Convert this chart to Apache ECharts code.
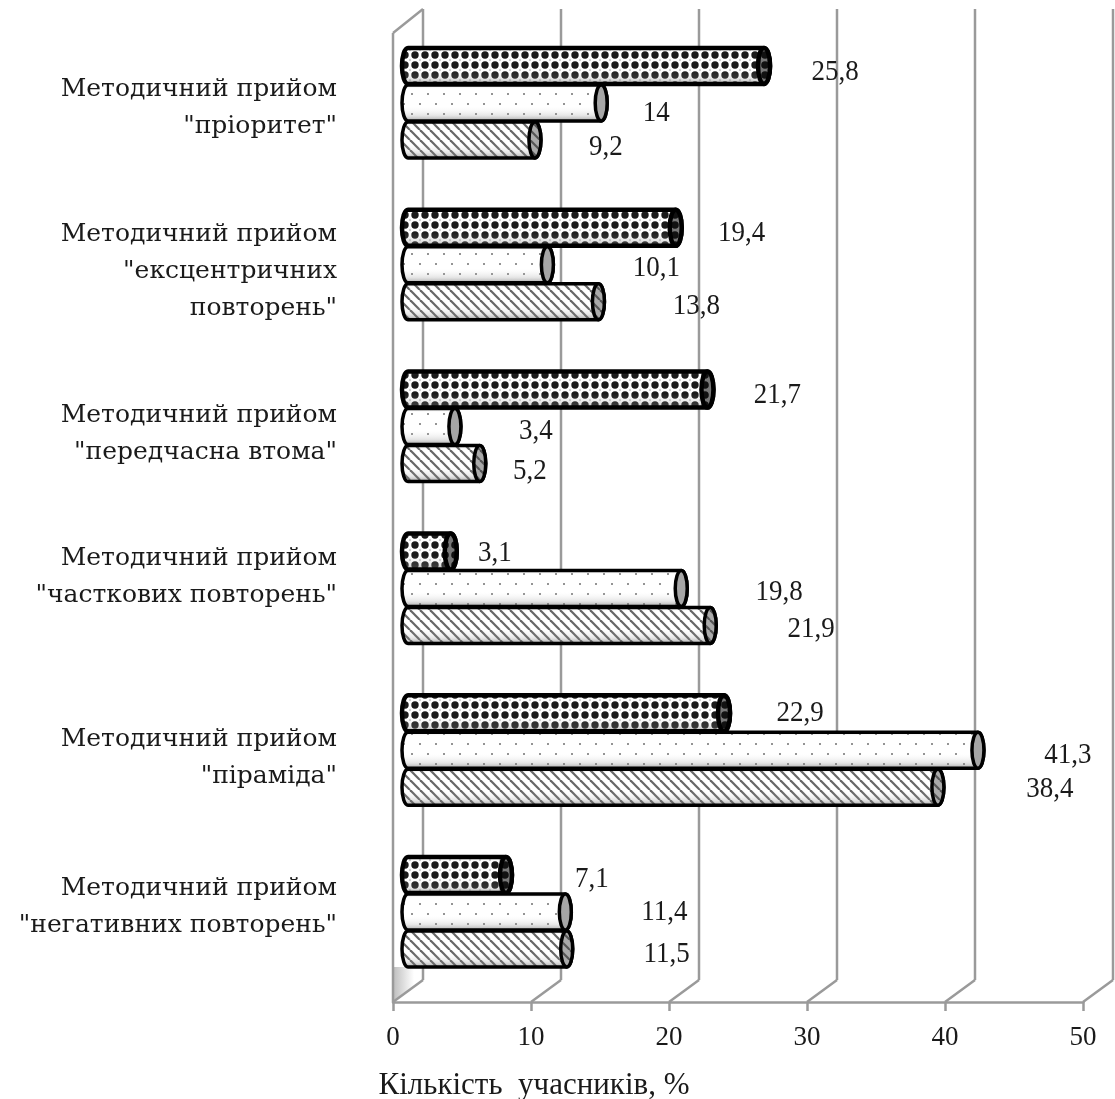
<!DOCTYPE html>
<html><head><meta charset="utf-8">
<style>html,body{margin:0;padding:0;background:#fff}#c{width:1115px;height:1099px}</style>
<script src="https://cdn.jsdelivr.net/npm/echarts@6/dist/echarts.min.js"></script>
</head><body><div id="c"></div>
<script>
const categories = [
  'Методичний прийом\n"пріоритет"',
  'Методичний прийом\n"ексцентричних\nповторень"',
  'Методичний прийом\n"передчасна втома"',
  'Методичний прийом\n"часткових повторень"',
  'Методичний прийом\n"піраміда"',
  'Методичний прийом\n"негативних повторень"'
];
const checkerValues = [25.8, 19.4, 21.7, 3.1, 22.9, 7.1];
const dottedValues  = [14, 10.1, 3.4, 19.8, 41.3, 11.4];
const hatchedValues = [9.2, 13.8, 5.2, 21.9, 38.4, 11.5];
const tickValues = [0, 10, 20, 30, 40, 50];

// layout constants (not data)
const checkerNudge = [[71,6],[66,6],[70,6],[44,2],[76,0],[86,4]];
const dottedNudge  = [[55,10],[109,4],[81,5],[98,4],[90,5],[99,0]];
const hatchedNudge = [[71,7],[98,5],[50,8],[101,4],[112,2],[100,5]];
const catLift = [3.5, 2.5, 2, 20, 1, 14.5];
const SERIF = '"Liberation Serif", serif';
const CATFONT = '"DejaVu Serif", serif';
const LINE = '#9a9a9a';

function mkPattern(w, h, bg, draw) {
  const c = document.createElement('canvas'); c.width = w; c.height = h;
  const g = c.getContext('2d'); g.fillStyle = bg; g.fillRect(0,0,w,h); draw(g);
  return {image: c, repeat: 'repeat'};
}
const drawChecker = g => {
  g.fillStyle = '#000'; g.beginPath(); g.arc(5,5,3.7,0,7); g.fill();
  g.fillStyle = '#ccc'; [[0,0],[10,0],[0,10],[10,10]].forEach(p=>{ g.beginPath(); g.arc(p[0],p[1],1.2,0,7); g.fill(); });
};
const patChecker = mkPattern(10, 10, '#fff', drawChecker);
const capChecker = mkPattern(10, 10, '#777', g => { g.fillStyle = '#111'; g.beginPath(); g.arc(5,5,3.8,0,7); g.fill(); });
const patDots = mkPattern(16, 20, '#fff', g => {
  g.fillStyle = '#888';
  g.fillRect(3,3,2,2); g.fillRect(11,13,2,2);
});
const drawHatch = g => {
  g.strokeStyle = '#555'; g.lineWidth = 2.2;
  [-10,0,10].forEach(o => { g.beginPath(); g.moveTo(o,0); g.lineTo(o+10,10); g.stroke(); });
};
const patHatch = mkPattern(10, 10, '#fff', drawHatch);
const capHatch = mkPattern(10, 10, '#aaa', drawHatch);
const shade = {type:'linear',x:0,y:0,x2:0,y2:1,colorStops:[
  {offset:0,color:'rgba(70,70,70,0.4)'},{offset:0.14,color:'rgba(255,255,255,0.1)'},
  {offset:0.6,color:'rgba(255,255,255,0.1)'},{offset:0.82,color:'rgba(170,170,170,0.3)'},
  {offset:1,color:'rgba(70,70,70,0.65)'}]};

function cylinderSeries(name, values, nudges, slot, pattern, capFill, lw) {
  return {
    type:'custom', name, coordinateSystem:'cartesian2d', z:5, clip:false,
    data: values.map((v,i)=>[v,i]),
    encode:{x:0,y:1},
    renderItem(params, api) {
      const v = api.value(0), idx = api.value(1);
      const start = api.coord([0, idx]), end = api.coord([v, idx]);
      const cy = start[1] - 9 + slot*37;
      const x0 = start[0] + 15, x1 = end[0] + 15;
      const r = 18, rx = 6;
      const d = `M${x0} ${cy-r} L${x1} ${cy-r} A${rx} ${r} 0 0 1 ${x1} ${cy+r} L${x0} ${cy+r} A${rx} ${r} 0 0 1 ${x0} ${cy-r} Z`;
      const n = nudges[idx];
      return {type:'group', children:[
        {type:'path', shape:{pathData:d}, style:{fill:pattern, stroke:'none'}},
        {type:'path', shape:{pathData:d}, style:{fill:shade, stroke:'#000', lineWidth:lw}},
        {type:'ellipse', shape:{cx:x1, cy, rx, ry:r}, style:{fill:capFill, stroke:'#000', lineWidth:lw}},
        {type:'text', x:x1+n[0], y:cy+n[1], scaleY:1.08, style:{text:String(v).replace('.',','), x:0, y:0, align:'center', verticalAlign:'middle',
          font:'27px '+SERIF, fill:'#1a1a1a'}}
      ]};
    }
  };
}
const wallSeries = {
  type:'custom', name:'wall', coordinateSystem:'cartesian2d', z:1, clip:false, silent:true,
  data: tickValues.map(t=>[t, 0]),
  encode:{x:0},
  renderItem(params, api) {
    const t = api.value(0);
    const base = api.coord([t, 5]);
    const x = base[0], bottom = params.coordSys.y + params.coordSys.height, top = params.coordSys.y;
    const ls = {stroke:LINE, lineWidth:2.5, fill:'none'};
    const kids = [];
    if (t === 0) {
      kids.push({type:'polygon', shape:{points:[[x,bottom-35],[x+30,bottom-35],[x+30,bottom-22],[x,bottom]]},
        style:{fill:{type:'linear',x:0,y:0,x2:1,y2:0,colorStops:[{offset:0,color:'#bdbdbd'},{offset:0.7,color:'#fff'}]}}});
      kids.push({type:'line', shape:{x1:x,y1:top+2,x2:x,y2:bottom}, style:ls});
      kids.push({type:'line', shape:{x1:x,y1:top+2,x2:x+30,y2:top-22}, style:ls});
    }
    kids.push({type:'line', shape:{x1:x+30,y1:top-22,x2:x+30,y2:bottom-22}, style:ls});
    kids.push({type:'line', shape:{x1:x,y1:bottom,x2:x+30,y2:bottom-22}, style:ls});
    return {type:'group', children:kids};
  }
};

const rich = {};
catLift.forEach((s,i)=>{ rich['s'+i] = {lineHeight:2*s, fontSize:2}; });
rich.l = {lineHeight:37, fontSize:25, fontFamily:CATFONT, color:'#1a1a1a'};

const chart = echarts.init(document.getElementById('c'), null, {renderer:'canvas'});
chart.setOption({
  animation:false, backgroundColor:'#fff',
  grid:{left:393, top:31, width:690, height:971, containLabel:false, outerBoundsMode:'none'},
  xAxis:{type:'value', min:0, max:50, interval:10, position:'bottom',
    name:'Кількість  учасників, %', nameLocation:'middle', nameGap:68,
    nameTextStyle:{fontFamily:SERIF, fontSize:31, color:'#1a1a1a', padding:[0,408,0,0]},
    axisLine:{show:true, lineStyle:{color:LINE,width:2.5}},
    axisTick:{show:true, length:9, lineStyle:{color:LINE,width:2.5}},
    axisLabel:{margin:22, fontFamily:SERIF, fontSize:27, color:'#1a1a1a', formatter:v=>tickValues.includes(v)?String(v):''},
    splitLine:{show:false}},
  yAxis:{type:'category', inverse:true, data:categories,
    axisLine:{show:false}, axisTick:{show:false}, splitLine:{show:false},
    axisLabel:{margin:56, align:'right', interval:0,
      formatter(value, i){
        const ls = value.split('\n');
        return ls.map(t=>`{l|${t}}`).join('\n') + `\n{s${i}| }`;
      }, rich}},
  series:[
    wallSeries,
    cylinderSeries('Прийоми 1', checkerValues, checkerNudge, -1, patChecker, capChecker, 4.5),
    cylinderSeries('Прийоми 2', dottedValues, dottedNudge, 0, patDots, '#a6a6a6', 3.5),
    cylinderSeries('Прийоми 3', hatchedValues, hatchedNudge, 1, patHatch, capHatch, 3.5)
  ]
});
</script></body></html>
